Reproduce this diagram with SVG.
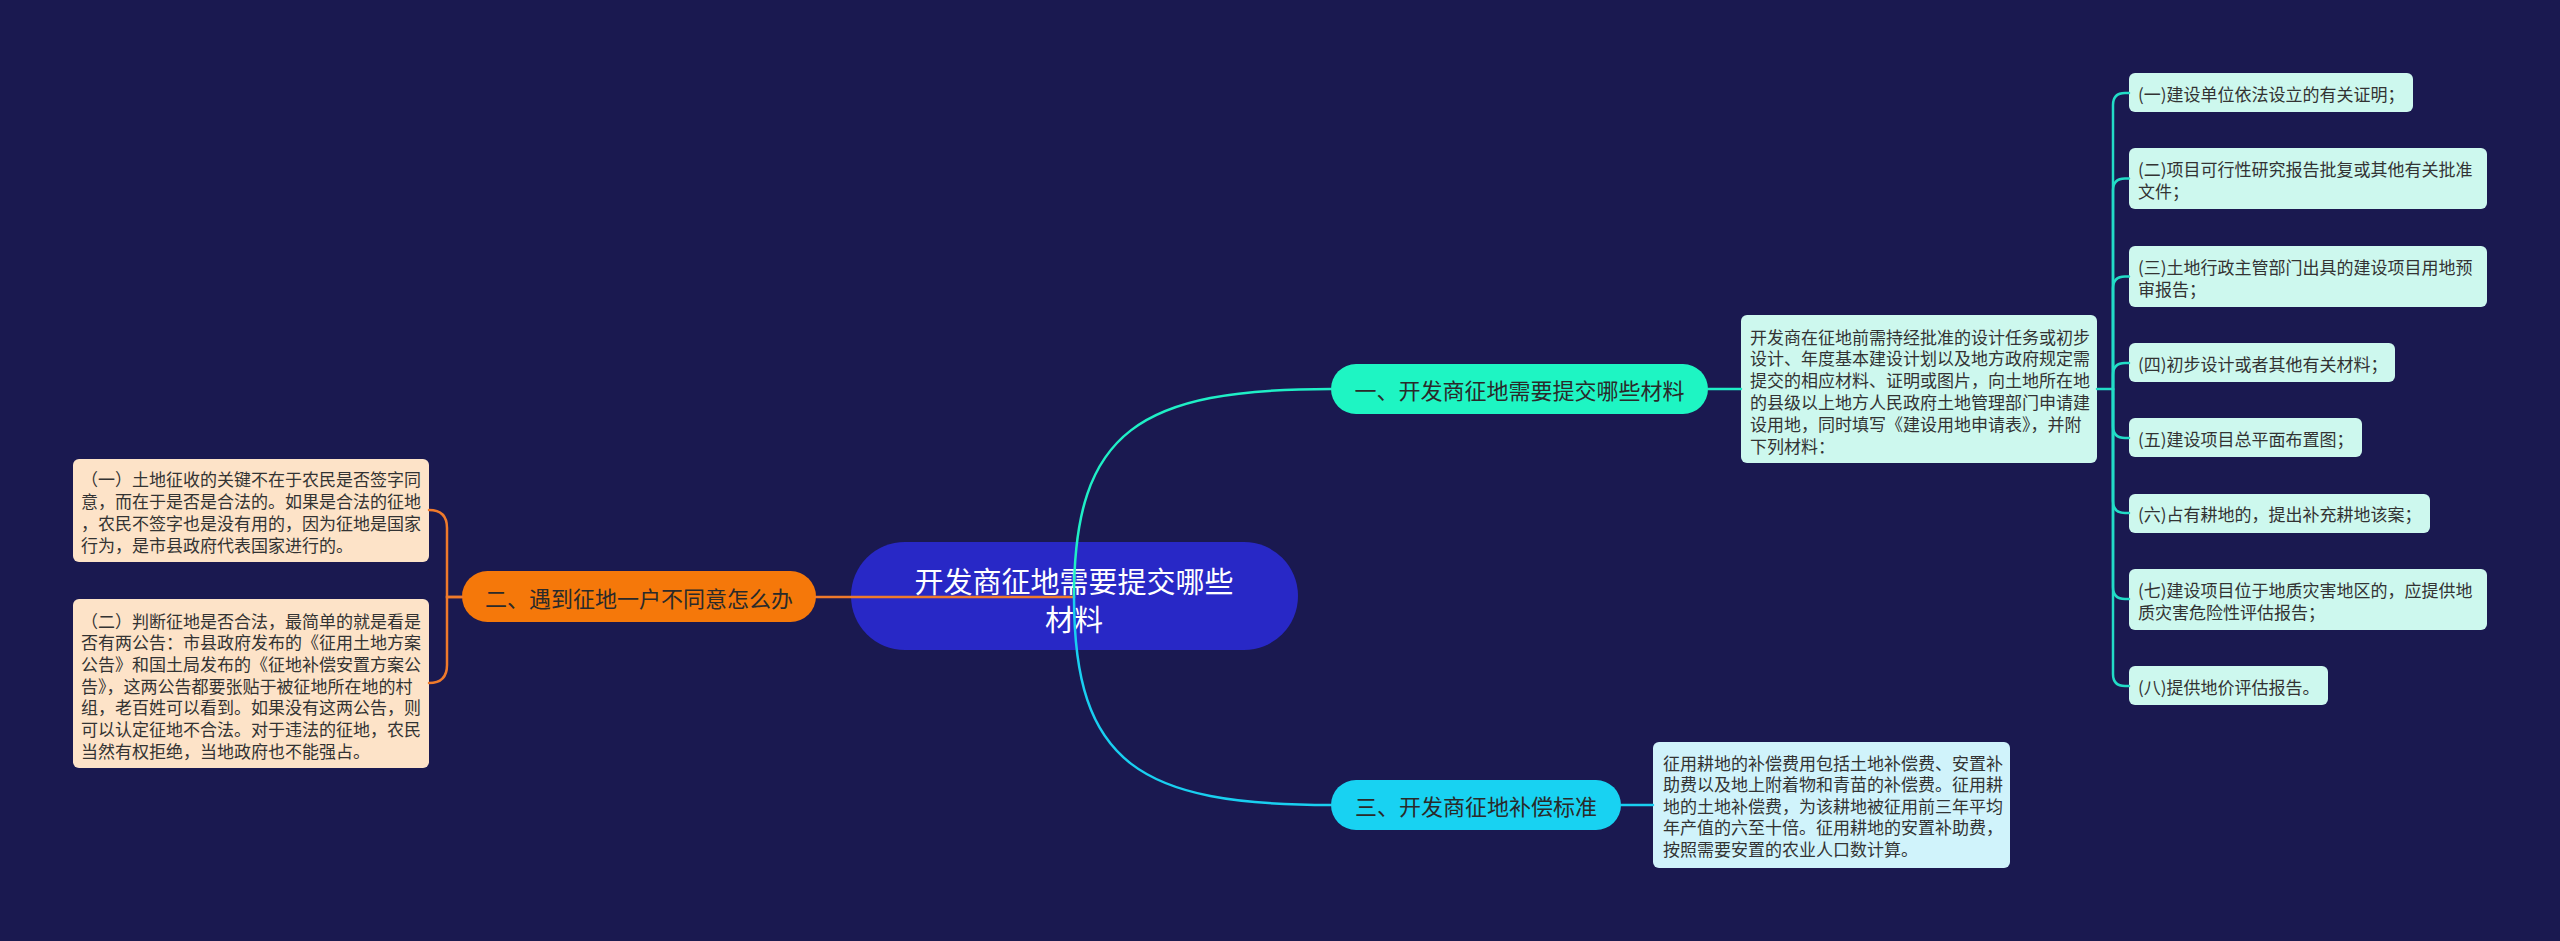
<svg xmlns="http://www.w3.org/2000/svg" width="2560" height="941" viewBox="0 0 2560 941">
<style>
text{font-family:"Noto Sans CJK SC","Noto Sans",sans-serif;dominant-baseline:central}
.t17{font-size:17px;fill:#333333}
.t22{font-size:22px;fill:#2a2a2a;text-anchor:middle}
.root{font-size:29px;fill:#ffffff;text-anchor:middle}
.c{fill:none;stroke-width:2.5;stroke-linecap:round}
.or{stroke:#ef7a2b}
.gr{stroke:#1fefc6}
.bl{stroke:#19cff0}
.tr{stroke:#22dcc6}
.peach{fill:#fde3c8}
.mint{fill:#cdf8ee}
.sky{fill:#d0f3fb}
</style>
<rect x="0" y="0" width="2560" height="941" fill="#1a1950"/>

<g id="root">
<rect x="851" y="542" width="447" height="108" rx="54" fill="#2828c6"/>
<text class="root" x="1074" y="580">开发商征地需要提交哪些</text>
<text class="root" x="1074" y="618">材料</text>
</g>

<g id="n2">
<rect x="462" y="571" width="354" height="51" rx="25.5" fill="#f5780a"/>
<text class="t22" x="639" y="597">二、遇到征地一户不同意怎么办</text>
</g>

<g id="n2a">
<rect class="peach" x="73" y="459" width="356" height="103" rx="6"/>
<text class="t17" x="81" y="478">（一）土地征收的关键不在于农民是否签字同</text>
<text class="t17" x="81" y="500">意，而在于是否是合法的。如果是合法的征地</text>
<text class="t17" x="81" y="522">，农民不签字也是没有用的，因为征地是国家</text>
<text class="t17" x="81" y="544">行为，是市县政府代表国家进行的。</text>
</g>

<g id="n2b">
<rect class="peach" x="73" y="599" width="356" height="169" rx="6"/>
<text class="t17" x="81" y="620">（二）判断征地是否合法，最简单的就是看是</text>
<text class="t17" x="81" y="641.7">否有两公告：市县政府发布的《征用土地方案</text>
<text class="t17" x="81" y="663.4">公告》和国土局发布的《征地补偿安置方案公</text>
<text class="t17" x="81" y="685.1">告》，这两公告都要张贴于被征地所在地的村</text>
<text class="t17" x="81" y="706.8">组，老百姓可以看到。如果没有这两公告，则</text>
<text class="t17" x="81" y="728.5">可以认定征地不合法。对于违法的征地，农民</text>
<text class="t17" x="81" y="750.2">当然有权拒绝，当地政府也不能强占。</text>
</g>

<g id="n1">
<rect x="1331" y="364" width="377" height="50" rx="25" fill="#1ef5c3"/>
<text class="t22" x="1519.5" y="389">一、开发商征地需要提交哪些材料</text>
</g>

<g id="n1main">
<rect class="mint" x="1741" y="315" width="356" height="148" rx="6"/>
<text class="t17" x="1750" y="336">开发商在征地前需持经批准的设计任务或初步</text>
<text class="t17" x="1750" y="357.8">设计、年度基本建设计划以及地方政府规定需</text>
<text class="t17" x="1750" y="379.6">提交的相应材料、证明或图片，向土地所在地</text>
<text class="t17" x="1750" y="401.4">的县级以上地方人民政府土地管理部门申请建</text>
<text class="t17" x="1750" y="423.2">设用地，同时填写《建设用地申请表》，并附</text>
<text class="t17" x="1750" y="445">下列材料：</text>
</g>

<g id="m1">
<rect class="mint" x="2129" y="73" width="284" height="39" rx="6"/>
<text class="t17" x="2138" y="93">(一)建设单位依法设立的有关证明；</text>
</g>
<g id="m2">
<rect class="mint" x="2129" y="148" width="358" height="61" rx="6"/>
<text class="t17" x="2138" y="168">(二)项目可行性研究报告批复或其他有关批准</text>
<text class="t17" x="2138" y="190">文件；</text>
</g>
<g id="m3">
<rect class="mint" x="2129" y="246" width="358" height="61" rx="6"/>
<text class="t17" x="2138" y="266">(三)土地行政主管部门出具的建设项目用地预</text>
<text class="t17" x="2138" y="288">审报告；</text>
</g>
<g id="m4">
<rect class="mint" x="2129" y="343" width="266" height="39" rx="6"/>
<text class="t17" x="2138" y="363">(四)初步设计或者其他有关材料；</text>
</g>
<g id="m5">
<rect class="mint" x="2129" y="418" width="233" height="39" rx="6"/>
<text class="t17" x="2138" y="438">(五)建设项目总平面布置图；</text>
</g>
<g id="m6">
<rect class="mint" x="2129" y="494" width="301" height="39" rx="6"/>
<text class="t17" x="2138" y="513">(六)占有耕地的，提出补充耕地该案；</text>
</g>
<g id="m7">
<rect class="mint" x="2129" y="569" width="358" height="61" rx="6"/>
<text class="t17" x="2138" y="589">(七)建设项目位于地质灾害地区的，应提供地</text>
<text class="t17" x="2138" y="611">质灾害危险性评估报告；</text>
</g>
<g id="m8">
<rect class="mint" x="2129" y="666" width="199" height="39" rx="6"/>
<text class="t17" x="2138" y="686">(八)提供地价评估报告。</text>
</g>

<g id="n3">
<rect x="1331" y="780" width="290" height="50" rx="25" fill="#18d2f2"/>
<text class="t22" x="1476" y="805">三、开发商征地补偿标准</text>
</g>

<g id="n3a">
<rect class="sky" x="1653" y="742" width="357" height="126" rx="6"/>
<text class="t17" x="1663" y="762">征用耕地的补偿费用包括土地补偿费、安置补</text>
<text class="t17" x="1663" y="783.6">助费以及地上附着物和青苗的补偿费。征用耕</text>
<text class="t17" x="1663" y="805.2">地的土地补偿费，为该耕地被征用前三年平均</text>
<text class="t17" x="1663" y="826.8">年产值的六至十倍。征用耕地的安置补助费，</text>
<text class="t17" x="1663" y="848.4">按照需要安置的农业人口数计算。</text>
</g>

<g id="connectors">
<path class="c or" d="M1074,597 L816,597"/>
<path class="c or" d="M462,597 L447,597 L447,528 Q447,510 429,510"/>
<path class="c or" d="M462,597 L447,597 L447,665 Q447,683 429,683"/>
<path class="c gr" d="M1074,597 C1074,430 1140,389 1331,389"/>
<path class="c bl" d="M1074,597 C1074,764 1140,805 1331,805"/>
<path class="c gr" d="M1708,389 L1741,389"/>
<path class="c bl" d="M1621,805 L1653,805"/>
<path class="c tr" d="M2097,389 L2113,389 L2113,105 Q2113,93 2125,93 L2129,93"/>
<path class="c tr" d="M2113,389 L2113,190.5 Q2113,178.5 2125,178.5 L2129,178.5"/>
<path class="c tr" d="M2113,389 L2113,288.5 Q2113,276.5 2125,276.5 L2129,276.5"/>
<path class="c tr" d="M2113,389 L2113,375 Q2113,363 2125,363 L2129,363"/>
<path class="c tr" d="M2113,389 L2113,426 Q2113,438 2125,438 L2129,438"/>
<path class="c tr" d="M2113,389 L2113,501 Q2113,513 2125,513 L2129,513"/>
<path class="c tr" d="M2113,389 L2113,587 Q2113,599 2125,599 L2129,599"/>
<path class="c tr" d="M2113,389 L2113,674 Q2113,686 2125,686 L2129,686"/>
</g>
</svg>
